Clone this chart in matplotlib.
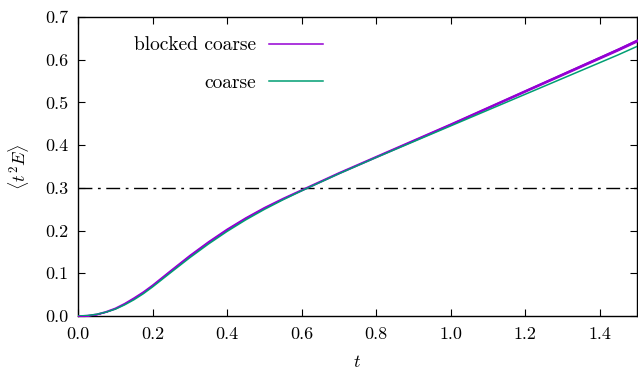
import numpy as np
import matplotlib
matplotlib.use("Agg")
import matplotlib.pyplot as plt

# flow time t and <t^2 E>
t = [0.0, 0.025, 0.05, 0.075, 0.1, 0.125, 0.15, 0.175, 0.2, 0.25, 0.3, 0.35, 0.4, 0.45, 0.5,
     0.55, 0.6, 0.65, 0.7, 0.75, 0.8, 0.85, 0.9, 0.95, 1.0,
     1.05, 1.1, 1.15, 1.2, 1.25, 1.3, 1.35, 1.4, 1.45, 1.5]
coarse = [0.0, 0.001, 0.004, 0.009, 0.016, 0.026, 0.038, 0.052, 0.068, 0.1025, 0.1365, 0.1685, 0.198, 0.225, 0.2495,
          0.272, 0.293, 0.313, 0.333, 0.352, 0.371, 0.3895, 0.408, 0.4265, 0.445,
          0.4635, 0.482, 0.5005, 0.519, 0.5375, 0.556, 0.5745, 0.593, 0.6115, 0.631]
blocked = [0.0, 0.001, 0.004, 0.010, 0.018, 0.029, 0.042, 0.056, 0.072, 0.107, 0.1415, 0.1735, 0.203, 0.2295, 0.2535,
           0.275, 0.295, 0.315, 0.335, 0.354, 0.373, 0.392, 0.411, 0.430, 0.449,
           0.4685, 0.488, 0.5075, 0.527, 0.5465, 0.566, 0.5855, 0.605, 0.6245, 0.645]
blocked_err = [0.0, 0.0, 0.0, 0.0003, 0.0005, 0.0005, 0.0006, 0.0006, 0.0007, 0.0008, 0.0008, 0.0008, 0.0008, 0.0008, 0.0008,
               0.0008, 0.0008, 0.0008, 0.0009, 0.0009, 0.001, 0.001, 0.0011, 0.0012, 0.0013,
               0.0014, 0.0015, 0.0016, 0.0017, 0.0018, 0.0019, 0.002, 0.0021, 0.0022, 0.0023]
t0_ref = 0.3

plt.rcParams['font.family'] = 'cmr10'
plt.rcParams['mathtext.fontset'] = 'cm'
plt.rcParams['axes.formatter.use_mathtext'] = True
plt.rcParams['font.size'] = 13

fig = plt.figure(figsize=(6.38, 3.82), dpi=100)
ax = fig.add_axes([0.1223, 0.1728, 0.876, 0.7827])

purple = '#9400D3'
teal = '#009E73'

b = np.array(blocked)
e = np.array(blocked_err)
ax.fill_between(t, b - e, b + e, color=purple, lw=0.8, zorder=3)
ax.plot(t, blocked, color=purple, lw=1.1, label='blocked coarse', zorder=3)
ax.plot(t, coarse, color=teal, lw=1.1, label='coarse', zorder=4)
ax.axhline(t0_ref, color='black', lw=1.0, ls=(0, (10, 4, 2, 4)), zorder=2)

ax.set_xlim(0, 1.5)
ax.set_ylim(0, 0.7)
ax.set_xticks(np.arange(0, 1.51, 0.2))
ax.set_yticks(np.arange(0, 0.71, 0.1))
ax.xaxis.set_major_formatter(matplotlib.ticker.FormatStrFormatter('%.1f'))
ax.yaxis.set_major_formatter(matplotlib.ticker.FormatStrFormatter('%.1f'))
ax.tick_params(direction='in', top=True, right=True, length=5, width=0.8)
ax.tick_params(axis='x', pad=8)
ax.tick_params(axis='y', pad=7)
for s in ax.spines.values():
    s.set_linewidth(1.0)

ax.set_xlabel('$t$', labelpad=8)
ax.set_ylabel(r'$\langle t^2 E\rangle$', labelpad=10)

leg = ax.legend(loc='upper left', bbox_to_anchor=(0.1, 0.935), frameon=False,
                fontsize=14, markerfirst=False, handlelength=2.8, handletextpad=0.65,
                labelspacing=1.03, borderpad=0, borderaxespad=0)
for col in leg._legend_handle_box.get_children():
    col.align = 'right'

fig.savefig('out.png', dpi=100)
